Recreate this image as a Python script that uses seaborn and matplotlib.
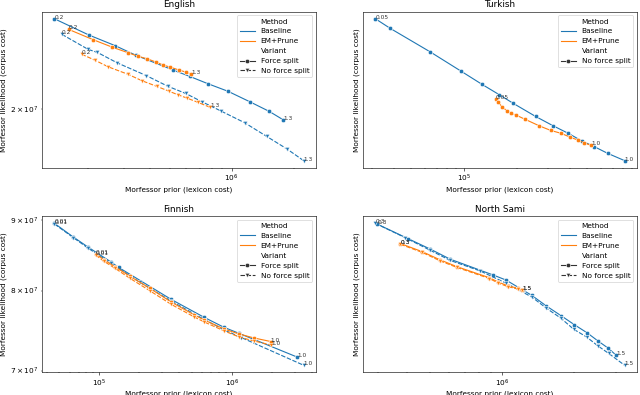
import matplotlib
matplotlib.use("Agg")
import matplotlib.pyplot as plt
from matplotlib.ticker import FixedLocator, LogFormatterSciNotation
import numpy as np
import pandas as pd
import seaborn as sns

# ---------------- data ----------------
methods = ["Baseline", "EM+Prune"]
variants_all = ["Force split", "No force split"]

# English
en_base_fs_x = [1.38e5, 2.03e5, 2.72e5, 3.44e5, 5.20e5, 6.25e5, 7.64e5, 9.60e5, 1.224e6, 1.523e6, 1.778e6]
en_base_fs_y = [2.590e7, 2.472e7, 2.398e7, 2.332e7, 2.236e7, 2.196e7, 2.151e7, 2.104e7, 2.042e7, 1.986e7, 1.939e7]
en_base_nf_x = [1.50e5, 2.015e5, 2.23e5, 2.78e5, 3.85e5, 4.89e5, 5.98e5, 7.20e5, 8.92e5, 1.155e6, 1.478e6, 1.858e6, 2.232e6]
en_base_nf_y = [2.477e7, 2.372e7, 2.352e7, 2.283e7, 2.201e7, 2.135e7, 2.091e7, 2.041e7, 1.987e7, 1.923e7, 1.849e7, 1.783e7, 1.725e7]
en_em_fs_x = [1.62e5, 2.13e5, 2.64e5, 3.14e5, 3.53e5, 3.88e5, 4.29e5, 4.66e5, 5.03e5, 5.56e5, 5.99e5, 6.35e5]
en_em_fs_y = [2.512e7, 2.439e7, 2.387e7, 2.350e7, 2.325e7, 2.310e7, 2.288e7, 2.268e7, 2.255e7, 2.236e7, 2.223e7, 2.210e7]
en_em_nf_x = [1.87e5, 2.17e5, 2.515e5, 3.14e5, 3.68e5, 4.33e5, 4.98e5, 5.46e5, 6.08e5, 6.84e5, 7.88e5]
en_em_nf_y = [2.340e7, 2.300e7, 2.257e7, 2.209e7, 2.168e7, 2.134e7, 2.104e7, 2.084e7, 2.063e7, 2.039e7, 2.009e7]

# Turkish
tr_base_nf_x = [3.13e4, 3.79e4, 6.41e4, 9.58e4, 1.262e5, 1.580e5, 1.893e5, 2.539e5, 3.184e5, 3.903e5, 4.645e5, 5.460e5, 6.522e5, 8.135e5]
tr_base_nf_y = [3.898e7, 3.842e7, 3.706e7, 3.599e7, 3.527e7, 3.472e7, 3.427e7, 3.359e7, 3.312e7, 3.273e7, 3.236e7, 3.208e7, 3.175e7, 3.140e7]
tr_em_nf_x = [1.510e5, 1.554e5, 1.644e5, 1.745e5, 1.837e5, 1.964e5, 2.217e5, 2.665e5, 3.093e5, 3.527e5, 3.981e5, 4.440e5, 4.818e5, 5.262e5]
tr_em_nf_y = [3.450e7, 3.433e7, 3.408e7, 3.388e7, 3.375e7, 3.366e7, 3.344e7, 3.311e7, 3.288e7, 3.274e7, 3.255e7, 3.239e7, 3.225e7, 3.214e7]

# Finnish
fi_base_fs_x = [4.59e4, 6.35e4, 8.24e4, 1.220e5, 1.402e5, 3.491e5, 6.18e5, 8.737e5, 1.133e6, 3.108e6]
fi_base_fs_y = [8.950e7, 8.750e7, 8.602e7, 8.394e7, 8.315e7, 7.883e7, 7.651e7, 7.524e7, 7.449e7, 7.160e7]
fi_base_nf_x = [4.59e4, 6.38e4, 8.24e4, 1.220e5, 2.016e5, 3.491e5, 6.21e5, 8.78e5, 1.179e6, 3.478e6]
fi_base_nf_y = [8.941e7, 8.739e7, 8.587e7, 8.375e7, 8.114e7, 7.861e7, 7.622e7, 7.490e7, 7.397e7, 7.063e7]
fi_em_fs_x = [9.41e4, 1.081e5, 1.308e5, 1.696e5, 2.398e5, 3.491e5, 5.224e5, 6.21e5, 8.78e5, 1.139e6, 1.476e6, 1.965e6]
fi_em_fs_y = [8.509e7, 8.424e7, 8.327e7, 8.196e7, 8.033e7, 7.848e7, 7.680e7, 7.616e7, 7.502e7, 7.440e7, 7.391e7, 7.348e7]
fi_em_nf_x = [9.41e4, 1.081e5, 1.308e5, 1.696e5, 2.398e5, 3.491e5, 5.224e5, 6.21e5, 8.78e5, 1.139e6, 1.476e6, 1.982e6]
fi_em_nf_y = [8.488e7, 8.403e7, 8.306e7, 8.168e7, 8.000e7, 7.818e7, 7.654e7, 7.591e7, 7.478e7, 7.403e7, 7.354e7, 7.305e7]

# North Sami
se_base_fs_x = [2.99e5, 4.02e5, 5.00e5, 6.06e5, 9.17e5, 1.039e6, 1.228e6, 1.331e6, 1.537e6, 1.770e6, 2.011e6, 2.279e6, 2.529e6, 2.785e6, 3.022e6]
se_base_fs_y = [2.791e7, 2.730e7, 2.686e7, 2.645e7, 2.582e7, 2.562e7, 2.522e7, 2.503e7, 2.462e7, 2.426e7, 2.393e7, 2.363e7, 2.334e7, 2.309e7, 2.283e7]
se_base_nf_x = [2.94e5, 3.93e5, 5.00e5, 6.06e5, 8.09e5, 1.039e6, 1.335e6, 1.535e6, 1.765e6, 2.001e6, 2.268e6, 2.522e6, 2.804e6, 3.270e6]
se_base_nf_y = [2.794e7, 2.733e7, 2.681e7, 2.640e7, 2.598e7, 2.550e7, 2.496e7, 2.454e7, 2.417e7, 2.376e7, 2.348e7, 2.317e7, 2.290e7, 2.249e7]
se_em_fs_x = [3.744e5, 4.613e5, 5.503e5, 6.462e5, 8.849e5, 9.65e5, 1.060e6, 1.167e6, 1.213e6]
se_em_fs_y = [2.709e7, 2.676e7, 2.642e7, 2.615e7, 2.571e7, 2.554e7, 2.539e7, 2.530e7, 2.525e7]
se_em_nf_x = [3.744e5, 4.613e5, 5.503e5, 6.462e5, 8.849e5, 9.65e5, 1.060e6, 1.167e6, 1.213e6]
se_em_nf_y = [2.706e7, 2.673e7, 2.638e7, 2.612e7, 2.568e7, 2.550e7, 2.536e7, 2.527e7, 2.523e7]

titles = ["English", "Turkish", "Finnish", "North Sami"]
start_labels = ["0.2", "0.05", "0.01", "0.3"]
end_labels = ["1.3", "1.0", "1.0", "1.5"]

panels = [
    [("Baseline", "Force split", en_base_fs_x, en_base_fs_y),
     ("Baseline", "No force split", en_base_nf_x, en_base_nf_y),
     ("EM+Prune", "Force split", en_em_fs_x, en_em_fs_y),
     ("EM+Prune", "No force split", en_em_nf_x, en_em_nf_y)],
    [("Baseline", "No force split", tr_base_nf_x, tr_base_nf_y),
     ("EM+Prune", "No force split", tr_em_nf_x, tr_em_nf_y)],
    [("Baseline", "Force split", fi_base_fs_x, fi_base_fs_y),
     ("Baseline", "No force split", fi_base_nf_x, fi_base_nf_y),
     ("EM+Prune", "Force split", fi_em_fs_x, fi_em_fs_y),
     ("EM+Prune", "No force split", fi_em_nf_x, fi_em_nf_y)],
    [("Baseline", "Force split", se_base_fs_x, se_base_fs_y),
     ("Baseline", "No force split", se_base_nf_x, se_base_nf_y),
     ("EM+Prune", "Force split", se_em_fs_x, se_em_fs_y),
     ("EM+Prune", "No force split", se_em_nf_x, se_em_nf_y)],
]

# ---------------- plot ----------------
fig, axes = plt.subplots(2, 2, figsize=(12, 7.40625), dpi=640 / 12)
fig.subplots_adjust(left=0.0656, right=0.9953, top=0.9704, bottom=0.0575,
                    wspace=0.1715, hspace=0.3115)

minor_vals = [k * 10.0 ** e for e in range(3, 10) for k in range(2, 10)]

for ax, title, series, s_lab, e_lab in zip(axes.flat, titles, panels, start_labels, end_labels):
    rows = []
    for m, v, xs, ys in series:
        for x, y in zip(xs, ys):
            rows.append({"prior": x, "lik": y, "Method": m, "Variant": v})
    df = pd.DataFrame(rows)
    present = [v for v in variants_all if v in set(df["Variant"])]
    mk = ["o", "v"][:len(present)]
    ax.set_xscale("log")
    ax.set_yscale("log")
    sns.lineplot(data=df, x="prior", y="lik", hue="Method", style="Variant",
                 hue_order=methods, style_order=present, markers=mk,
                 dashes=True, ax=ax)
    for m, v, xs, ys in series:
        ax.text(xs[0], ys[0], s_lab, fontsize=8, color="#333333")
        ax.text(xs[-1], ys[-1], e_lab, fontsize=8, color="#333333")
    for axis in (ax.xaxis, ax.yaxis):
        axis.set_minor_locator(FixedLocator(minor_vals))
        axis.set_minor_formatter(LogFormatterSciNotation(labelOnlyBase=False))
    ax.set_title(title)
    ax.set_xlabel("Morfessor prior (lexicon cost)", labelpad=2.5)
    ax.set_ylabel("Morfessor likelihood (corpus cost)")
    sns.move_legend(ax, "upper right")

fig.savefig("out.png", dpi=640 / 12)
